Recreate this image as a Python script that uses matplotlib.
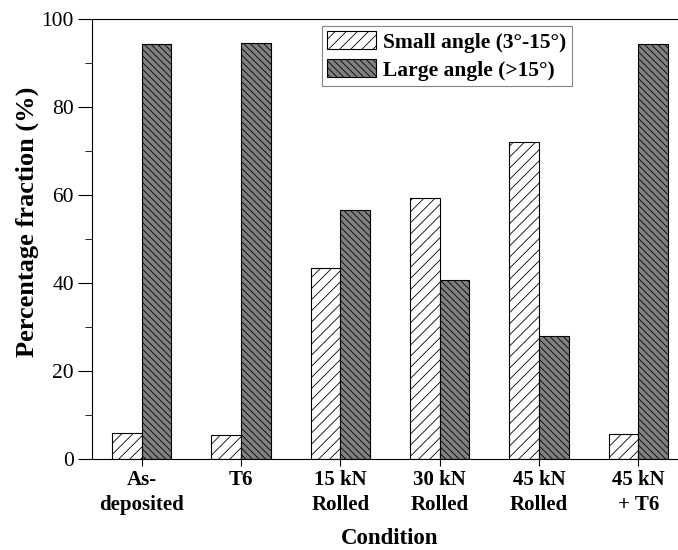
import matplotlib
matplotlib.use("Agg")
import matplotlib.pyplot as plt
import numpy as np
from matplotlib.ticker import MultipleLocator

conditions = ["As-\ndeposited", "T6", "15 kN\nRolled", "30 kN\nRolled", "45 kN\nRolled", "45 kN\n+ T6"]
small_angle = [5.8, 5.5, 43.4, 59.3, 72.1, 5.6]
large_angle = [94.2, 94.5, 56.6, 40.7, 27.9, 94.4]

plt.rcParams['font.family'] = ['Liberation Serif', 'DejaVu Serif']
plt.rcParams['hatch.linewidth'] = 0.6

fig = plt.figure(figsize=(6.78, 5.5), dpi=100)
# axes is wider than the canvas: the right spine falls outside, like the source
ax = fig.add_axes([0.1357, 0.1655, 0.879, 0.80])

x = np.arange(len(conditions))
w = 0.3
ax.bar(x - w / 2, small_angle, w, color='white', edgecolor='black', linewidth=0.8,
       hatch='///', label='Small angle (3°-15°)')
ax.bar(x + w / 2, large_angle, w, color='#808080', edgecolor='black', linewidth=0.8,
       hatch='\\\\\\\\\\', label='Large angle (>15°)')

ax.set_xlim(-0.5, 5.5)
ax.set_ylim(0, 100)
ax.set_xticks(x)
ax.set_xticklabels(conditions, fontsize=15, fontweight='bold', linespacing=1.3)
ax.yaxis.set_major_locator(MultipleLocator(20))
ax.yaxis.set_minor_locator(MultipleLocator(10))
ax.tick_params(axis='y', which='major', labelsize=15.5, direction='out', length=10, pad=3)
ax.tick_params(axis='y', which='minor', direction='out', length=5)
ax.tick_params(axis='x', direction='inout', length=10, pad=3)

fig.text(390 / 678, 1 - 538 / 550, 'Condition', fontsize=16.5, fontweight='bold',
         ha='center', va='center')
fig.text(27 / 678, 1 - 222 / 550, 'Percentage fraction (%)', fontsize=19, fontweight='bold',
         ha='center', va='center', rotation=90)

leg = ax.legend(loc='upper left', bbox_to_anchor=(0.386, 0.984),
                prop={'weight': 'bold', 'size': 15.5}, fancybox=False, edgecolor='#666666',
                handlelength=2.25, handleheight=0.9, borderpad=0.25, labelspacing=0.3,
                handletextpad=0.33, borderaxespad=0)
leg.get_frame().set_linewidth(0.8)

fig.savefig('out.png', dpi=100)
